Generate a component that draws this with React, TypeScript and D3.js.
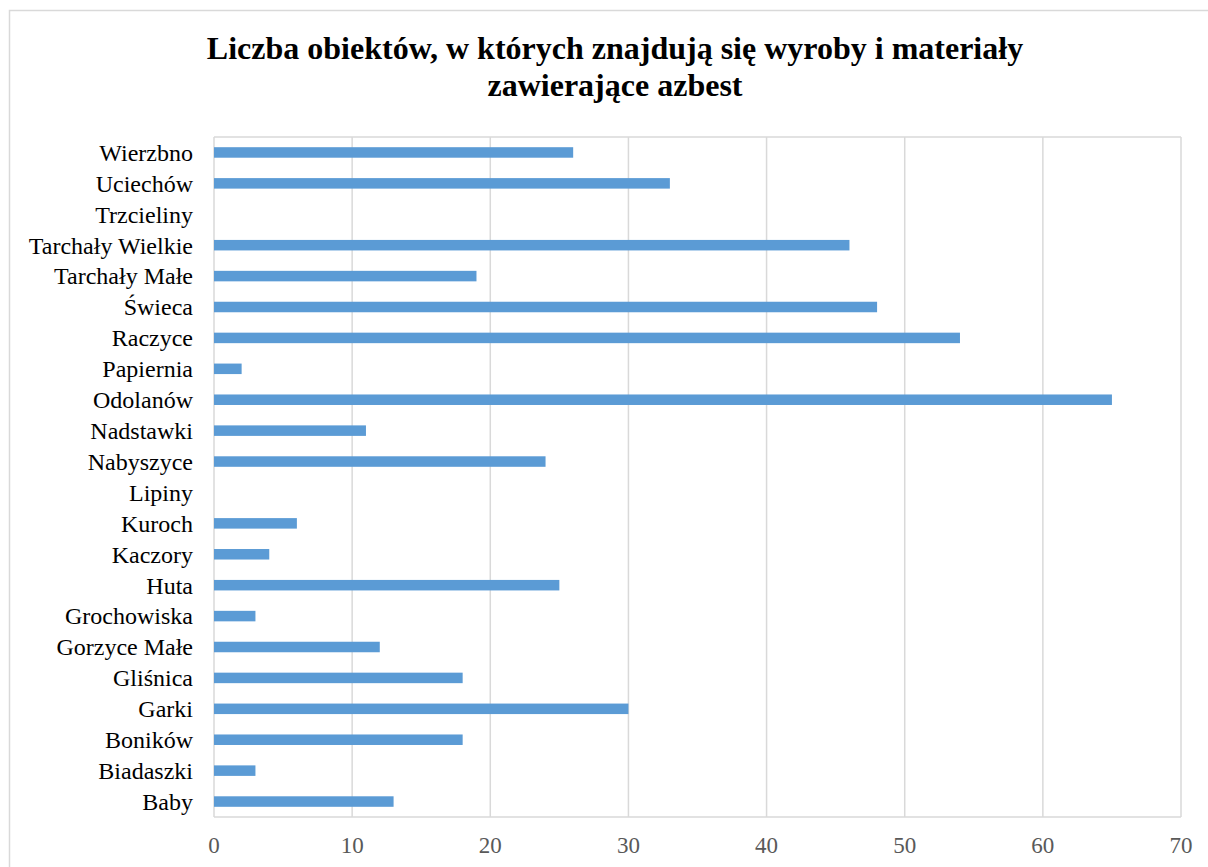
import React from "react";
import * as d3 from "d3";

const categories = [
  "Wierzbno", "Uciechów", "Trzcieliny", "Tarchały Wielkie", "Tarchały Małe", "Świeca",
  "Raczyce", "Papiernia", "Odolanów", "Nadstawki", "Nabyszyce", "Lipiny", "Kuroch",
  "Kaczory", "Huta", "Grochowiska", "Gorzyce Małe", "Gliśnica", "Garki", "Boników",
  "Biadaszki", "Baby",
];
const values = [26, 33, 0, 46, 19, 48, 54, 2, 65, 11, 24, 0, 6, 4, 25, 3, 12, 18, 30, 18, 3, 13];
const xTicks = [0, 10, 20, 30, 40, 50, 60, 70];
const titleLines = [
  "Liczba obiektów, w których znajdują się wyroby i materiały",
  "zawierające azbest",
];

const W = 1208;
const H = 867;
const plot = { left: 214, right: 1181, top: 137, bottom: 817 };
const FONT = '"Liberation Serif", "DejaVu Serif", serif';

export default function App() {
  const x = d3.scaleLinear().domain([0, 70]).range([plot.left, plot.right]);
  const y = d3
    .scaleBand<string>()
    .domain(categories)
    .range([plot.top, plot.bottom])
    .paddingInner(0.66)
    .paddingOuter(0.33);
  const cx = 615;

  return (
    <svg
      width={W}
      height={H}
      style={{ position: "absolute", left: 0, top: 0, background: "#fff", fontFamily: FONT }}
    >
      <rect x={9.5} y={10.5} width={W + 20} height={H + 20} fill="#fff" stroke="#d9d9d9" strokeWidth={1.5} />
      {titleLines.map((t, i) => (
        <text key={i} x={cx} y={59 + i * 37} textAnchor="middle" fontSize={32} fontWeight="bold" fill="#000" style={{ fontFamily: FONT }}>
          {t}
        </text>
      ))}
      {xTicks.map((t) => (
        <line key={"g" + t} x1={x(t)} x2={x(t)} y1={plot.top} y2={plot.bottom} stroke="#d9d9d9" strokeWidth={1.5} />
      ))}
      <line x1={plot.left} x2={plot.right} y1={plot.top} y2={plot.top} stroke="#d9d9d9" strokeWidth={1.5} />
      <line x1={plot.left} x2={plot.right} y1={plot.bottom} y2={plot.bottom} stroke="#d9d9d9" strokeWidth={1.5} />
      {categories.map((c, i) => (
        <rect
          key={"b" + c}
          x={x(0)}
          y={y(c)!}
          width={x(values[i]) - x(0)}
          height={y.bandwidth()}
          fill="#5b9bd5"
        />
      ))}
      {categories.map((c) => (
        <text
          key={"l" + c}
          x={193}
          y={y(c)! + y.bandwidth() / 2}
          dy="0.35em"
          textAnchor="end"
          fontSize={24}
          fill="#000"
          style={{ fontFamily: FONT }}
        >
          {c}
        </text>
      ))}
      {xTicks.map((t) => (
        <text key={"t" + t} x={x(t)} y={853} textAnchor="middle" fontSize={23} fill="#595959" style={{ fontFamily: FONT }}>
          {t}
        </text>
      ))}
    </svg>
  );
}
